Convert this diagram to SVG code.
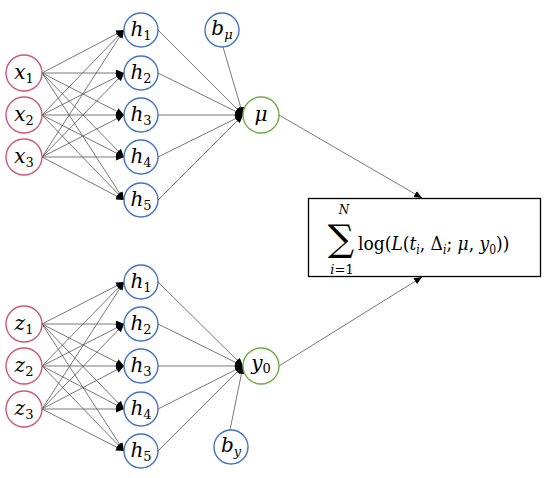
<svg xmlns="http://www.w3.org/2000/svg" width="550" height="478" viewBox="0 0 550 478">
<defs>
<marker id="ah" markerUnits="userSpaceOnUse" markerWidth="9" markerHeight="7" refX="8" refY="3.5" orient="auto">
<path d="M0,0 L8,3.5 L0,7 z" fill="#000"/>
</marker>
<style>
.e{stroke:#555;stroke-width:0.8;fill:none;marker-end:url(#ah)}
.in{fill:#fff;stroke:#cc5a78;stroke-width:1.4}
.hid{fill:#fff;stroke:#4472c4;stroke-width:1.4}
.out{fill:#fff;stroke:#70ad47;stroke-width:1.4}
text{font-family:"DejaVu Serif","Liberation Serif",serif;fill:#000}
.lb{font-size:20px;text-anchor:middle}
.v{font-style:italic}
.s{font-size:13px}
.f{font-family:"DejaVu Serif Condensed","DejaVu Serif",serif;font-stretch:condensed}
</style>
</defs>
<rect width="550" height="478" fill="#fff"/>
<g id="connectors">
<line class="e" x1="42" y1="73" x2="124" y2="30"/>
<line class="e" x1="42" y1="73" x2="124" y2="73"/>
<line class="e" x1="42" y1="73" x2="124" y2="115"/>
<line class="e" x1="42" y1="73" x2="124" y2="157"/>
<line class="e" x1="42" y1="73" x2="124" y2="200"/>
<line class="e" x1="42" y1="115" x2="124" y2="30"/>
<line class="e" x1="42" y1="115" x2="124" y2="73"/>
<line class="e" x1="42" y1="115" x2="124" y2="115"/>
<line class="e" x1="42" y1="115" x2="124" y2="157"/>
<line class="e" x1="42" y1="115" x2="124" y2="200"/>
<line class="e" x1="42" y1="157" x2="124" y2="30"/>
<line class="e" x1="42" y1="157" x2="124" y2="73"/>
<line class="e" x1="42" y1="157" x2="124" y2="115"/>
<line class="e" x1="42" y1="157" x2="124" y2="157"/>
<line class="e" x1="42" y1="157" x2="124" y2="200"/>
<line class="e" x1="158" y1="30" x2="243" y2="115"/>
<line class="e" x1="158" y1="73" x2="243" y2="115"/>
<line class="e" x1="158" y1="115" x2="243" y2="115"/>
<line class="e" x1="158" y1="157" x2="243" y2="115"/>
<line class="e" x1="158" y1="200" x2="243" y2="115"/>
<line class="e" x1="223" y1="47" x2="243" y2="115"/>
<line class="e" x1="279" y1="115" x2="422" y2="198"/>
<line class="e" x1="42" y1="324" x2="124" y2="282"/>
<line class="e" x1="42" y1="324" x2="124" y2="324"/>
<line class="e" x1="42" y1="324" x2="124" y2="366"/>
<line class="e" x1="42" y1="324" x2="124" y2="409"/>
<line class="e" x1="42" y1="324" x2="124" y2="451"/>
<line class="e" x1="42" y1="366" x2="124" y2="282"/>
<line class="e" x1="42" y1="366" x2="124" y2="324"/>
<line class="e" x1="42" y1="366" x2="124" y2="366"/>
<line class="e" x1="42" y1="366" x2="124" y2="409"/>
<line class="e" x1="42" y1="366" x2="124" y2="451"/>
<line class="e" x1="42" y1="409" x2="124" y2="282"/>
<line class="e" x1="42" y1="409" x2="124" y2="324"/>
<line class="e" x1="42" y1="409" x2="124" y2="366"/>
<line class="e" x1="42" y1="409" x2="124" y2="409"/>
<line class="e" x1="42" y1="409" x2="124" y2="451"/>
<line class="e" x1="158" y1="282" x2="243" y2="366"/>
<line class="e" x1="158" y1="324" x2="243" y2="366"/>
<line class="e" x1="158" y1="366" x2="243" y2="366"/>
<line class="e" x1="158" y1="409" x2="243" y2="366"/>
<line class="e" x1="158" y1="451" x2="243" y2="366"/>
<line class="e" x1="230" y1="430" x2="243" y2="366"/>
<line class="e" x1="279" y1="366" x2="422" y2="277"/>
</g>
<g id="x1"><circle class="in" cx="24" cy="73" r="18"/><text class="lb" x="24" y="79"><tspan class="v">x</tspan><tspan class="s" dy="4">1</tspan></text></g>
<g id="x2"><circle class="in" cx="24" cy="115" r="18"/><text class="lb" x="24" y="121"><tspan class="v">x</tspan><tspan class="s" dy="4">2</tspan></text></g>
<g id="x3"><circle class="in" cx="24" cy="157" r="18"/><text class="lb" x="24" y="163"><tspan class="v">x</tspan><tspan class="s" dy="4">3</tspan></text></g>
<g id="h1a"><circle class="hid" cx="141" cy="30" r="17"/><text class="lb" x="141" y="36"><tspan class="v">h</tspan><tspan class="s" dy="4">1</tspan></text></g>
<g id="h2a"><circle class="hid" cx="141" cy="73" r="17"/><text class="lb" x="141" y="79"><tspan class="v">h</tspan><tspan class="s" dy="4">2</tspan></text></g>
<g id="h3a"><circle class="hid" cx="141" cy="115" r="17"/><text class="lb" x="141" y="121"><tspan class="v">h</tspan><tspan class="s" dy="4">3</tspan></text></g>
<g id="h4a"><circle class="hid" cx="141" cy="157" r="17"/><text class="lb" x="141" y="163"><tspan class="v">h</tspan><tspan class="s" dy="4">4</tspan></text></g>
<g id="h5a"><circle class="hid" cx="141" cy="200" r="17"/><text class="lb" x="141" y="206"><tspan class="v">h</tspan><tspan class="s" dy="4">5</tspan></text></g>
<g id="bmu"><circle class="hid" cx="222" cy="30" r="17"/><text class="lb" x="222" y="35"><tspan class="v">b</tspan><tspan class="s v" dy="4">μ</tspan></text></g>
<g id="mu"><circle class="out" cx="261" cy="115" r="18"/><text class="lb" x="261" y="121"><tspan class="v">μ</tspan></text></g>
<g id="z1"><circle class="in" cx="24" cy="324" r="18"/><text class="lb" x="24" y="330"><tspan class="v">z</tspan><tspan class="s" dy="4">1</tspan></text></g>
<g id="z2"><circle class="in" cx="24" cy="366" r="18"/><text class="lb" x="24" y="372"><tspan class="v">z</tspan><tspan class="s" dy="4">2</tspan></text></g>
<g id="z3"><circle class="in" cx="24" cy="409" r="18"/><text class="lb" x="24" y="415"><tspan class="v">z</tspan><tspan class="s" dy="4">3</tspan></text></g>
<g id="h1b"><circle class="hid" cx="141" cy="282" r="17"/><text class="lb" x="141" y="288"><tspan class="v">h</tspan><tspan class="s" dy="4">1</tspan></text></g>
<g id="h2b"><circle class="hid" cx="141" cy="324" r="17"/><text class="lb" x="141" y="330"><tspan class="v">h</tspan><tspan class="s" dy="4">2</tspan></text></g>
<g id="h3b"><circle class="hid" cx="141" cy="366" r="17"/><text class="lb" x="141" y="372"><tspan class="v">h</tspan><tspan class="s" dy="4">3</tspan></text></g>
<g id="h4b"><circle class="hid" cx="141" cy="409" r="17"/><text class="lb" x="141" y="415"><tspan class="v">h</tspan><tspan class="s" dy="4">4</tspan></text></g>
<g id="h5b"><circle class="hid" cx="141" cy="451" r="17"/><text class="lb" x="141" y="457"><tspan class="v">h</tspan><tspan class="s" dy="4">5</tspan></text></g>
<g id="y0"><circle class="out" cx="261" cy="366" r="18"/><text class="lb" x="261" y="370"><tspan class="v">y</tspan><tspan class="s" dy="3">0</tspan></text></g>
<g id="by"><circle class="hid" cx="231" cy="447" r="17"/><text class="lb" x="231" y="452"><tspan class="v">b</tspan><tspan class="s v" dy="4">y</tspan></text></g>
<g id="loss">
<rect x="308.5" y="198.5" width="232" height="78" fill="#fff" stroke="#000" stroke-width="1.3"/>
<text x="341" y="251" font-size="37" text-anchor="middle">∑</text>
<text x="344" y="214" font-size="12" font-style="italic" text-anchor="middle">N</text>
<text x="342" y="274" font-size="13" text-anchor="middle"><tspan font-style="italic">i</tspan>=1</text>
<text class="f" x="358" y="250" font-size="19">log(<tspan class="v">L</tspan>(<tspan class="v">t</tspan><tspan class="v" font-size="12" dy="4">i</tspan><tspan dy="-4">, Δ</tspan><tspan class="v" font-size="12" dy="4">i</tspan><tspan dy="-4">; </tspan><tspan class="v">μ</tspan>, <tspan class="v">y</tspan><tspan font-size="12" dy="4">0</tspan><tspan dy="-4">))</tspan></text>
</g>
</svg>
